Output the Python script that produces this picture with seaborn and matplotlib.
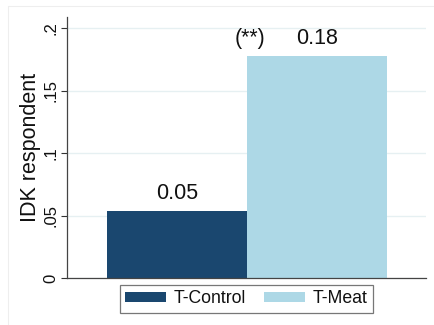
import matplotlib
matplotlib.use("Agg")
import matplotlib.pyplot as plt
from matplotlib.lines import Line2D
import seaborn as sns
import pandas as pd

# Share of "I don't know" respondents by treatment arm
groups = ["T-Control", "T-Meat"]
shares = [0.054, 0.178]
value_labels = ["0.05", "0.18"]
signif = "(**)"
y_ticks = [0, 0.05, 0.1, 0.15, 0.2]
y_tick_labels = ["0", ".05", ".1", ".15", ".2"]
colors = ["#1a476f", "#add8e6"]

df = pd.DataFrame({"group": groups, "share": shares})

sns.set_theme(style="white")
plt.rcParams["font.family"] = ["Liberation Sans", "DejaVu Sans"]

W, H = 434, 325
fig = plt.figure(figsize=(W / 100, H / 100), dpi=100)
ax = fig.add_axes([67 / W, 1 - 278 / H, (426 - 67) / W, (278 - 17) / H])

sns.barplot(data=df, x="group", y="share", hue="group", palette=colors,
            width=1.0, dodge=False, legend=False, ax=ax, linewidth=0,
            saturation=1)

ax.set_xlim(-0.786, 1.779)
ax.set_ylim(0, 0.2088)
ax.set_xticks([])
ax.set_xlabel("")
ax.set_yticks(y_ticks)
ax.set_yticklabels(y_tick_labels, rotation=90, va="center", fontsize=12)
ax.tick_params(axis="y", length=4, width=0.8, color="#333333", pad=2,
               left=True, labelcolor="#111111")
ax.set_ylabel("IDK respondent", fontsize=15.5, labelpad=2, color="#111111")

ax.yaxis.grid(True, color="#e6f0f2", linewidth=1.0)
ax.set_axisbelow(True)
for side in ["top", "right"]:
    ax.spines[side].set_visible(False)
for side in ["left", "bottom"]:
    ax.spines[side].set_color("#444444")
    ax.spines[side].set_linewidth(0.9)

# value labels above the bars
for i, (v, lab) in enumerate(zip(shares, value_labels)):
    ax.text(i, v + 0.005, lab, ha="center", va="bottom", fontsize=15.5,
            color="#111111")
ax.text(0.52, shares[1] + 0.005, signif, ha="center", va="bottom",
        fontsize=15.5, color="#111111")

# legend below the plot
handles = [plt.Rectangle((0, 0), 1, 1, facecolor=c, edgecolor="none")
           for c in colors]
leg = fig.legend(handles, groups, loc="upper center",
                 bbox_to_anchor=(246.5 / W, 1 - 285 / H), ncol=2,
                 fontsize=12.7, frameon=True, fancybox=False,
                 handlelength=2.33, handleheight=0.5, handletextpad=0.45,
                 columnspacing=1.0, borderpad=0.3, borderaxespad=0)
leg.get_frame().set_edgecolor("#555555")
leg.get_frame().set_linewidth(0.9)
for t in leg.get_texts():
    t.set_color("#111111")

# faint outer frame of the graph region
fig.add_artist(Line2D([8 / W, 8 / W], [0, 1 - 6 / H], transform=fig.transFigure,
                      color="#eeeeee", linewidth=0.8))
fig.add_artist(Line2D([8 / W, 1], [1 - 6 / H, 1 - 6 / H], transform=fig.transFigure,
                      color="#eeeeee", linewidth=0.8))

fig.savefig("out.png", dpi=100)
